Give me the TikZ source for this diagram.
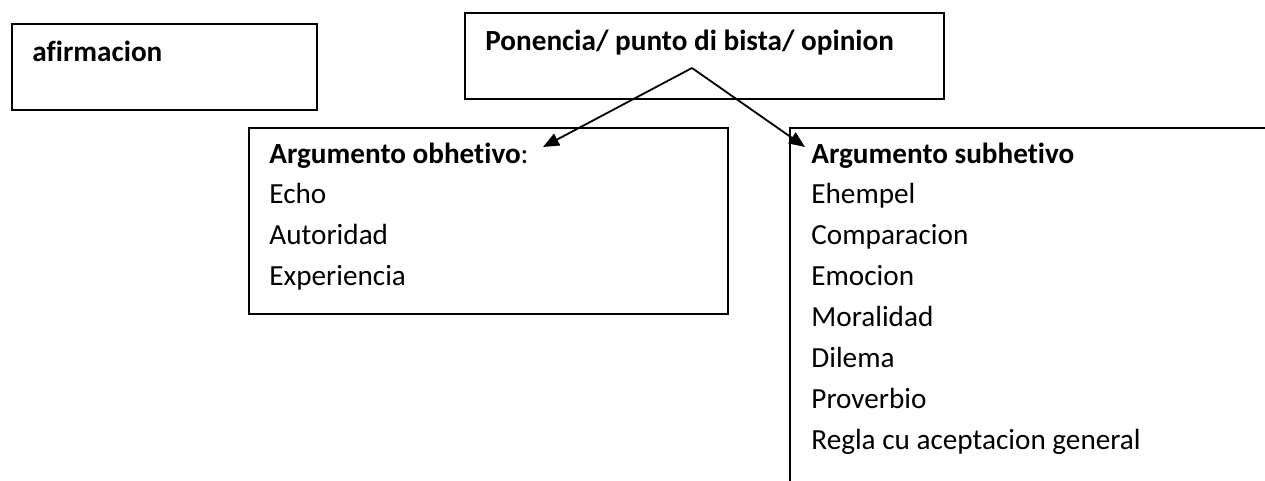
\documentclass[tikz,border=0pt]{standalone}
\usepackage{fontspec}
\setmainfont{Carlito}[Ligatures=NoCommon]
\usetikzlibrary{arrows.meta, positioning}

\tikzset{
  boxframe/.style={draw, line width=0.9pt, anchor=north west, inner sep=0pt},
  itemtext/.style={anchor=base west, inner sep=0pt, font=\fontsize{14.6}{17}\selectfont},
  headtext/.style={itemtext, font=\fontsize{14.6}{17}\selectfont\bfseries},
  link/.style={line width=0.9pt, -{Triangle[length=8pt, width=6.5pt]}}
}

\begin{document}
\begin{tikzpicture}[x=0.5pt, y=-0.5pt]
  \useasboundingbox (0,0) rectangle (1265,481);
  \clip (0,0) rectangle (1265,481);
  % boxes
  \node[boxframe, minimum width=152.5pt, minimum height=43pt] (afirmbox) at (11,23) {};
  \node[boxframe, minimum width=239.5pt, minimum height=43pt] (ponbox) at (464,12) {};
  \node[boxframe, minimum width=239.5pt, minimum height=93pt] (objbox) at (248,127) {};
  \node[boxframe, minimum width=300pt, minimum height=200pt] (subbox) at (789,127) {};
  % titles
  \node[headtext] (afirm) at (32,62) {afirmacion};
  \node[headtext] (ponencia) at (485,51) {Ponencia/ punto di bista/ opinion};
  \node[itemtext] (objtitle) at (269,163) {\textbf{Argumento obhetivo}:};
  \node[headtext] (subtitle) at (811,163) {Argumento subhetivo};
  % lists
  \foreach \txt [count=\i] in {Echo, Autoridad, Experiencia}
    \node[itemtext] (obj\i) at (269,163+40.9*\i) {\txt};
  \foreach \txt [count=\i] in {Ehempel, Comparacion, Emocion, Moralidad, Dilema, Proverbio, Regla cu aceptacion general}
    \node[itemtext] (sub\i) at (811,163+40.9*\i) {\txt};
  % arrows
  \coordinate (apex) at (692,68);
  \coordinate (tipobj) at (543,147);
  \coordinate (tipsub) at (805,147);
  \draw[link] (apex) -- (tipobj);
  \draw[link] (apex) -- (tipsub);
\end{tikzpicture}
\end{document}
